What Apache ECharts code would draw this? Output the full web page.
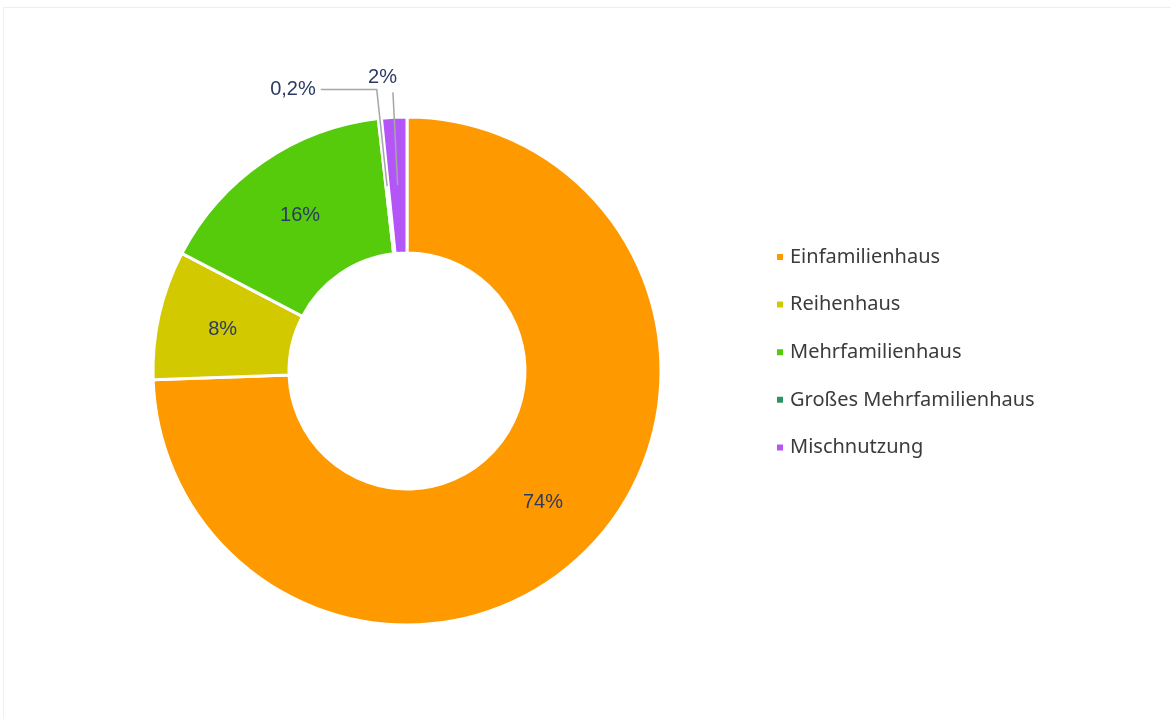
<!DOCTYPE html>
<html>
<head>
<meta charset="utf-8">
<script src="https://cdn.jsdelivr.net/npm/echarts@6/dist/echarts.min.js"></script>
<style>
  html, body { margin: 0; padding: 0; background: #fff; }
  #frame { position: absolute; left: 3px; top: 7px; right: 0; bottom: 0; border-top: 1px solid #eeeeee; border-left: 1px solid #f0f0f0; }
  #chart { position: absolute; left: 0; top: 0; width: 1171px; height: 719px; }
</style>
</head>
<body>
<div id="frame"></div>
<div id="chart"></div>
<script>
// Gebäudetypen (Anteile in %)
const categories = ['Einfamilienhaus', 'Reihenhaus', 'Mehrfamilienhaus', 'Großes Mehrfamilienhaus', 'Mischnutzung']
const values = [74.3, 8.2, 15.5, 0.2, 1.6]
const colors = ['#ff9900', '#d2c900', '#55cb0c', '#2e9466', '#b455f7']
// welche Anteile außen beschriftet werden
const outsideLabels = [false, false, false, true, true]

const labelColor = '#2c3a63'
// ab 1 % ganzzahlig, darunter mit einer Nachkommastelle (Komma)
const fmt = v => (v >= 1 ? String(Math.round(v)) : String(v).replace('.', ',')) + '%'

const chart = echarts.init(document.getElementById('chart'))

const ringData = categories.map((name, i) => ({
  name: name,
  value: values[i],
  itemStyle: { color: colors[i] },
  label: { show: !outsideLabels[i] }
}))

// unsichtbarer Innenkreis nur für die Außenbeschriftungen (Linie startet in Ringmitte)
const helperData = categories.map((name, i) => ({
  name: name,
  value: values[i],
  label: { show: outsideLabels[i] },
  labelLine: {
    show: outsideLabels[i],
    length: i === 3 ? 97 : 93,
    length2: i === 3 ? 56 : 0
  }
}))

const option = {
  animation: false,
  color: colors,
  legend: {
    orient: 'vertical',
    left: 770,
    top: 242,
    itemWidth: 8,
    itemHeight: 8,
    itemGap: 27.6,
    icon: 'rect',
    data: categories,
    textStyle: {
      color: '#3b3b3b',
      fontSize: 20,
      fontFamily: 'Noto Sans',
      padding: [0, 0, 0, 1]
    }
  },
  series: [
    {
      name: 'Gebäudetyp',
      type: 'pie',
      center: [407, 371],
      radius: [118, 254],
      startAngle: 90,
      clockwise: true,
      avoidLabelOverlap: false,
      itemStyle: { borderColor: '#ffffff', borderWidth: 3 },
      label: {
        position: 'inside',
        color: labelColor,
        fontSize: 20,
        fontFamily: 'Liberation Sans',
        formatter: p => fmt(p.value)
      },
      labelLine: { show: false },
      emphasis: { disabled: true },
      data: ringData
    },
    {
      name: 'Beschriftung',
      type: 'pie',
      z: 3,
      center: [407, 371],
      radius: [0, 186],
      startAngle: 90,
      clockwise: true,
      silent: true,
      avoidLabelOverlap: false,
      itemStyle: { color: 'transparent' },
      label: {
        position: 'outside',
        color: labelColor,
        fontSize: 20,
        fontFamily: 'Liberation Sans',
        formatter: p => fmt(p.value)
      },
      labelLine: {
        smooth: false,
        lineStyle: { color: '#a6a6a6', width: 1.5 }
      },
      // "2%" sitzt über dem Linienende
      labelLayout: p => (p.dataIndex === 4 ? { dx: 9, dy: -15 } : {}),
      emphasis: { disabled: true },
      data: helperData
    }
  ]
}

chart.setOption(option)
</script>
</body>
</html>
